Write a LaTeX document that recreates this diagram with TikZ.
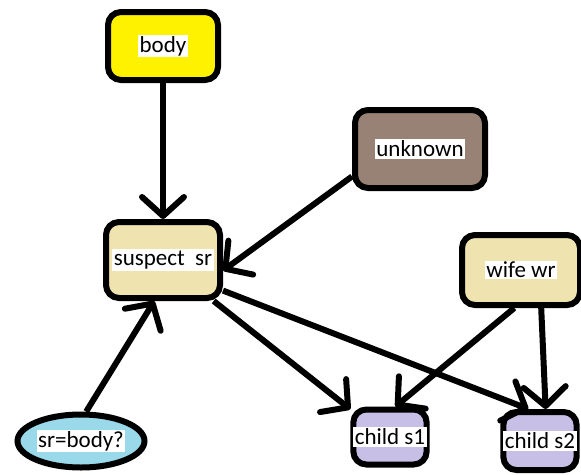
\documentclass[tikz,border=0pt]{standalone}
\usepackage{fontspec}
\setmainfont{Carlito}
\usetikzlibrary{arrows.meta, shapes.geometric}

\definecolor{bodyyellow}{RGB}{255,242,0}
\definecolor{unknownbrown}{RGB}{152,130,117}
\definecolor{persontan}{RGB}{239,228,176}
\definecolor{questionblue}{RGB}{153,217,234}
\definecolor{childlilac}{RGB}{200,191,231}

\newcommand{\wlabel}[1]{{\setlength{\fboxsep}{1.5pt}\colorbox{white}{#1}}}

\begin{document}
\begin{tikzpicture}[x=1pt, y=-1pt]
\useasboundingbox (0,0) rectangle (581,474);
\begin{scope}[every node/.style={rectangle, rounded corners=13pt, line width=6pt, draw, inner sep=0pt, font=\fontsize{23}{25}\selectfont}]
    \node (body) at (163, 46) [fill=bodyyellow, minimum width=110, minimum height=68] {\wlabel{body}};
    \node (unknown) at (420, 149) [fill=unknownbrown, minimum width=130, minimum height=78] {\wlabel{unknown}};

    \node (suspect) at (163, 260) [fill=persontan, minimum width=114, minimum height=76] {\wlabel{suspect~~sr}};
    \node (wife) at (521, 270) [fill=persontan, minimum width=118, minimum height=70] {\wlabel{wife wr}};

    \node (question) at (81, 441) [shape=ellipse, fill=questionblue, minimum width=127, minimum height=53] {\wlabel{sr=body?}};
    \node (childone) at (390, 437) [fill=childlilac, minimum width=70, minimum height=55] {\wlabel{child s1}};
    \node (childtwo) at (540, 441) [fill=childlilac, minimum width=70, minimum height=58] {\wlabel{child s2}};
\end{scope}

\begin{scope}[>={Straight Barb[length=19pt, width=42pt, round]},
              every edge/.style={draw=black, line width=6pt}]
    \path [->] (body) edge (suspect);
    \path [->] (unknown.202) edge (suspect.350);
    \path [->] (suspect.321) edge (childone.145);
    \path [->] (suspect.333) edge (childtwo.110);
    \path [->] (wife.260) edge (childone.80);
    \path [->] (wife.298) edge (childtwo.80);
    \path [->] (question.80) edge (suspect.258);
\end{scope}
\end{tikzpicture}
\end{document}
